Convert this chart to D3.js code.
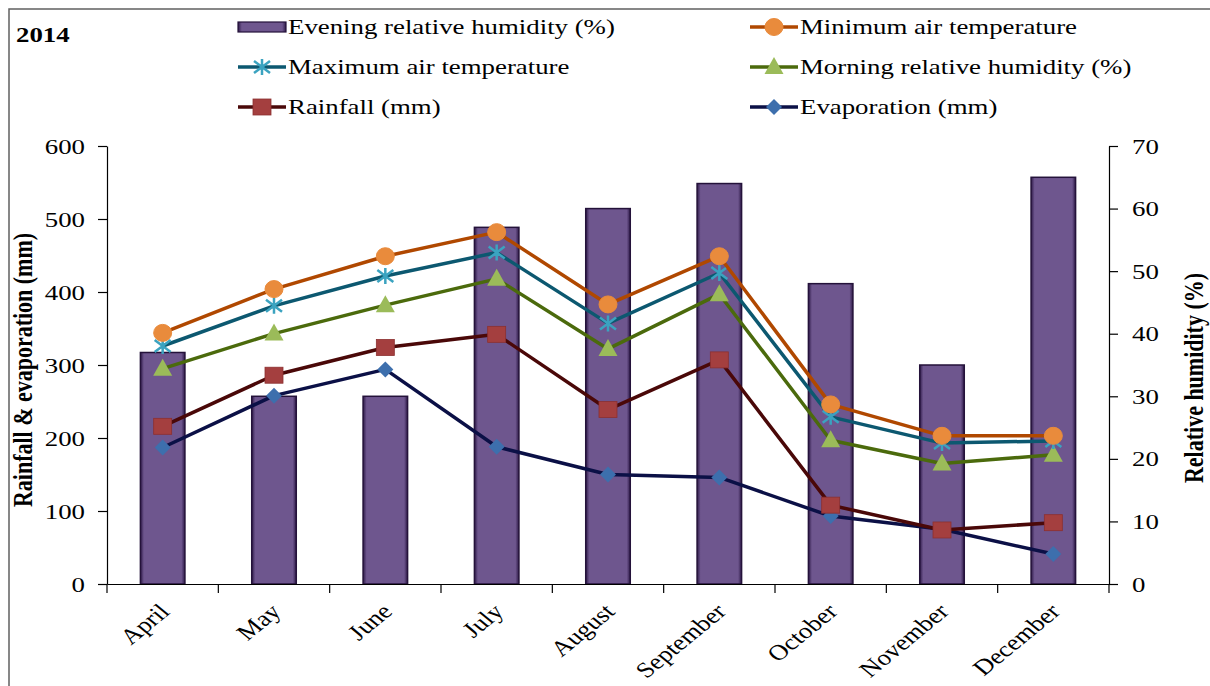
<!DOCTYPE html>
<html><head><meta charset="utf-8">
<script src="https://cdn.jsdelivr.net/npm/d3@7"></script>
<style>
html,body{margin:0;padding:0;background:#fff;}
svg{display:block;}
text{font-family:"Liberation Serif","Times New Roman",serif;fill:#000;}
</style></head>
<body>
<svg id="c" width="1210" height="686"></svg>
<script>
const months = ["April","May","June","July","August","September","October","November","December"];
const eveningRH = [37, 30, 30, 57, 60, 64, 48, 35, 65];
const minTemp = [344, 404, 449, 482, 383, 449, 246, 203, 203];
const maxTemp = [326, 381, 422, 454, 357, 426, 229, 193, 196];
const morningRH = [295, 343, 382, 418, 322, 397, 197, 165, 177];
const rainfall = [216, 286, 324, 342, 239, 307, 108, 74, 84];
const evaporation = [187, 258, 294, 188, 150, 146, 93, 75, 41];
const leftTicks = [0,100,200,300,400,500,600];
const rightTicks = [0,10,20,30,40,50,60,70];

const SX = 1.22; // horizontal stretch of text
const svg = d3.select("#c");

// frame
svg.append("rect").attr("x",9).attr("y",9).attr("width",1240).attr("height",700)
  .attr("fill","none").attr("stroke","#606060").attr("stroke-width",1.5);

const x = d3.scaleBand().domain(months).range([107,1109]);
const yL = d3.scaleLinear().domain([0,600]).range([584,146]);
const yR = d3.scaleLinear().domain([0,70]).range([584,146]);

// defs: bar gradient
const defs = svg.append("defs");
const g1 = defs.append("linearGradient").attr("id","barg").attr("x1","0").attr("x2","1").attr("y1","0").attr("y2","0");
g1.append("stop").attr("offset","0").attr("stop-color","#2e1a48");
g1.append("stop").attr("offset","0.08").attr("stop-color","#6e568e");
g1.append("stop").attr("offset","0.92").attr("stop-color","#6e568e");
g1.append("stop").attr("offset","1").attr("stop-color","#2e1a48");

// bars
const bw = x.bandwidth()*0.4;
svg.append("g").selectAll("rect").data(months).join("rect")
  .attr("x", (m)=>x(m)+x.bandwidth()/2-bw/2)
  .attr("y", (m,i)=>yR(eveningRH[i]))
  .attr("width", bw)
  .attr("height", (m,i)=>yR(0)-yR(eveningRH[i]))
  .attr("fill","url(#barg)").attr("stroke","#24123a").attr("stroke-width",1.5);

// axes
function stretchText(sel){
  sel.selectAll(".tick text").each(function(){
    const t = d3.select(this);
    const xx = +t.attr("x")||0;
    t.attr("x",0).attr("transform",`translate(${xx},0) scale(${SX},1)`);
  });
}
const axL = svg.append("g").attr("transform","translate(107,0)")
  .call(d3.axisLeft(yL).tickValues(leftTicks).tickSize(9).tickPadding(13).tickSizeOuter(0));
const axR = svg.append("g").attr("transform","translate(1109,0)")
  .call(d3.axisRight(yR).tickValues(rightTicks).tickSize(9).tickPadding(14).tickSizeOuter(0));
[axL,axR].forEach(a=>{
  a.selectAll("text").attr("font-size","22px").attr("font-family","Liberation Serif").attr("fill","#000");
  a.selectAll("line,path").attr("stroke","#000").attr("stroke-width",1.2);
  stretchText(a);
});
const axB = svg.append("g").attr("transform","translate(0,584)")
  .call(d3.axisBottom(x).tickSize(0).tickFormat("").tickSizeOuter(0));
axB.selectAll("path").attr("stroke","#000").attr("stroke-width",1.2);
const bounds = months.map(m=>x(m)).concat([x.range()[1]]);
svg.append("g").selectAll("line").data(bounds).join("line")
  .attr("x1",d=>d).attr("x2",d=>d).attr("y1",584).attr("y2",593)
  .attr("stroke","#000").attr("stroke-width",1.2);

// x labels
svg.append("g").selectAll("text").data(months).join("text")
  .attr("transform", m=>`translate(${x(m)+x.bandwidth()/2-5},602) scale(${SX},1) rotate(-45)`)
  .attr("text-anchor","end").attr("dy","0.7em").attr("font-size","22px").text(m=>m);

// axis titles
svg.append("text").attr("transform",`translate(32,370) scale(${SX},1) rotate(-90)`)
  .attr("text-anchor","middle").attr("font-size","22px").attr("font-weight","bold").text("Rainfall & evaporation (mm)");
svg.append("text").attr("transform",`translate(1203,378) scale(${SX},1) rotate(-90)`)
  .attr("text-anchor","middle").attr("font-size","22px").attr("font-weight","bold").text("Relative humidity (%)");

// title
svg.append("text").attr("transform",`translate(16,42) scale(${SX},1)`)
  .attr("font-size","22px").attr("font-weight","bold").text("2014");

// series
const series = [
  {name:"Evaporation (mm)", data:evaporation, line:"#0b1046", fill:"#3d6fad", marker:"diamond"},
  {name:"Rainfall (mm)", data:rainfall, line:"#4a0808", fill:"#a43f3f", marker:"square"},
  {name:"Morning relative humidity (%)", data:morningRH, line:"#4b6a0c", fill:"#9bbb59", marker:"triangle"},
  {name:"Maximum air temperature", data:maxTemp, line:"#0c5870", fill:"#3ba3c0", marker:"star"},
  {name:"Minimum air temperature", data:minTemp, line:"#b04800", fill:"#e98b3c", marker:"circle"},
];
const cx = m=>x(m)+x.bandwidth()/2;

function drawMarker(g, type, px, py, s){
  if(type==="circle"){
    g.append("ellipse").attr("cx",px).attr("cy",py).attr("rx",9).attr("ry",8.5).attr("fill",s.fill).attr("stroke",s.fill);
  } else if(type==="square"){
    g.append("rect").attr("x",px-9).attr("y",py-8).attr("width",18).attr("height",16).attr("fill",s.fill).attr("stroke","#8c3030").attr("stroke-width",0.8);
  } else if(type==="triangle"){
    g.append("path").attr("d",`M${px},${py-10}L${px+9.5},${py+7}L${px-9.5},${py+7}Z`).attr("fill",s.fill);
  } else if(type==="diamond"){
    g.append("path").attr("d",`M${px},${py-8}L${px+8},${py}L${px},${py+8}L${px-8},${py}Z`).attr("fill",s.fill);
  } else if(type==="star"){
    const r=8;
    let d = `M${px-r},${py-r*0.75}L${px+r},${py+r*0.75}M${px-r},${py+r*0.75}L${px+r},${py-r*0.75}M${px},${py-r}L${px},${py+r}`;
    g.append("path").attr("d",d).attr("stroke",s.fill).attr("stroke-width",2.5).attr("fill","none");
  }
}

const lineGen = d3.line().x((d,i)=>cx(months[i])).y(d=>yL(d));
series.forEach(s=>{
  const g = svg.append("g");
  g.append("path").datum(s.data).attr("d",lineGen).attr("fill","none")
    .attr("stroke",s.line).attr("stroke-width",3.5).attr("stroke-linejoin","round");
  s.data.forEach((v,i)=>drawMarker(g, s.marker, cx(months[i]), yL(v), s));
});

// legend
const leg = svg.append("g");
const legItems = [
  {name:"Evening relative humidity (%)", bar:true, col:0, row:0},
  {name:"Minimum air temperature", s:series[4], col:1, row:0},
  {name:"Maximum air temperature", s:series[3], col:0, row:1},
  {name:"Morning relative humidity (%)", s:series[2], col:1, row:1},
  {name:"Rainfall (mm)", s:series[1], col:0, row:2},
  {name:"Evaporation (mm)", s:series[0], col:1, row:2},
];
const colX = [238, 750], rowY = [27, 67, 107];
legItems.forEach(it=>{
  const x0 = colX[it.col], y0 = rowY[it.row];
  if(it.bar){
    leg.append("rect").attr("x",x0).attr("y",y0-5).attr("width",48).attr("height",10)
      .attr("fill","url(#barg)").attr("stroke","#24123a").attr("stroke-width",1.2);
  } else {
    leg.append("line").attr("x1",x0).attr("x2",x0+48).attr("y1",y0).attr("y2",y0)
      .attr("stroke",it.s.line).attr("stroke-width",3.5);
    drawMarker(leg, it.s.marker, x0+24, y0, it.s);
  }
  leg.append("text").attr("transform",`translate(${x0+50},${y0+7}) scale(${SX},1)`)
    .attr("font-size","22px").text(it.name);
});
</script>
</body></html>
